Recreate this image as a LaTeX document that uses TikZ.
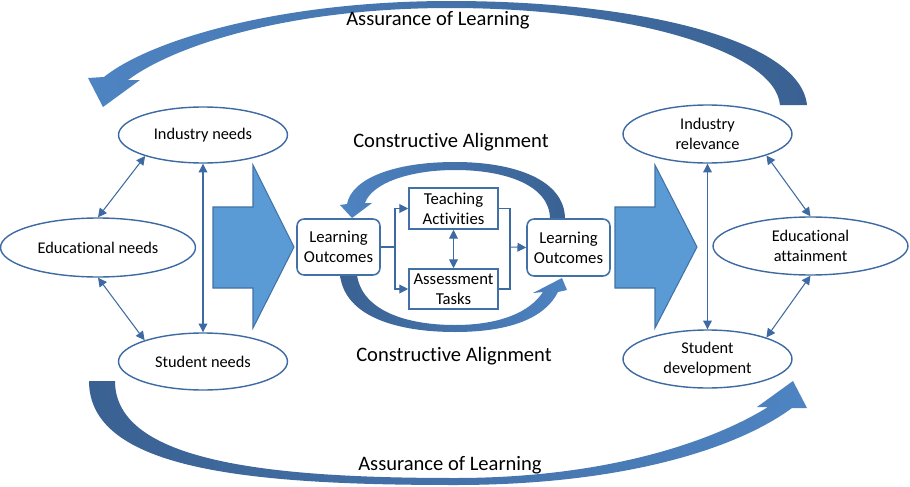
\documentclass[tikz,border=0pt]{standalone}
\usepackage{fontspec}
\setmainfont[Ligatures=NoCommon]{Carlito}
\usetikzlibrary{shapes.geometric,arrows.meta}
\definecolor{lineblue}{RGB}{62,106,163}
\definecolor{boxblue}{RGB}{65,113,166}
\definecolor{fillblue}{RGB}{91,155,213}
\definecolor{darkband}{RGB}{58,97,146}
\definecolor{lightband}{RGB}{78,132,194}
\begin{document}
\begin{tikzpicture}[x=0.02cm,y=-0.02cm,
	ell/.style={ellipse,draw=lineblue,fill=white,line width=0.8pt,inner sep=0pt,align=center,font=\fontsize{9.3}{11.3}\selectfont},
	box/.style={rectangle,draw=boxblue,fill=white,line width=0.9pt,inner sep=0pt,align=center,font=\fontsize{9.5}{11.3}\selectfont},
	link/.style={draw=lineblue,line width=0.6pt,>={Triangle[length=5pt,width=5pt]}},
	block/.style={fill=fillblue,draw=boxblue,line width=0.6pt},
	title/.style={font=\fontsize{11.7}{14}\selectfont}]
	\useasboundingbox (0,0) rectangle (910,487);
	\shade[left color=lightband,right color=darkband] (807,105) .. controls (800,40) and (640,1) .. (450,1) .. controls (280,1) and (150,40) .. (104,77) -- (88,78) -- (103,107) -- (140,80) -- (128,80) .. controls (175,45) and (290,8) .. (450,8) .. controls (625,8) and (775,50) .. (780,105) -- cycle;
	\shade[left color=darkband,right color=lightband] (89,381) .. controls (89,470) and (250,485) .. (455,485) .. controls (620,485) and (735,450) .. (792,408) -- (807,408) -- (793,381) -- (757,407) -- (768,407) .. controls (715,440) and (610,478) .. (455,478) .. controls (270,478) and (115,462) .. (115,381) -- cycle;
	\shade[left color=lightband,right color=darkband] (565,219) .. controls (565,180) and (515,162) .. (455,162) .. controls (395,162) and (352,178) .. (347,204) -- (340,205) -- (352,218) -- (372,203) -- (365,203) .. controls (372,183) and (410,170) .. (455,170) .. controls (505,170) and (550,185) .. (550,219) -- cycle;
	\shade[left color=darkband,right color=lightband] (340,275) .. controls (345,318) and (400,332) .. (455,332) .. controls (510,332) and (545,318) .. (558,292) -- (567,290) -- (562,278) -- (533,293) -- (543,292) .. controls (530,312) and (500,325) .. (455,325) .. controls (405,325) and (362,310) .. (357,275) -- cycle;
	\draw[block] (213,207) -- (253,207) -- (253,165) -- (294,247) -- (253,328) -- (253,288) -- (213,288) -- cycle;
	\draw[block] (615,207) -- (655,207) -- (655,165) -- (697,247) -- (655,328) -- (655,288) -- (615,288) -- cycle;
	\node[ell,minimum width=3.38cm,minimum height=1.12cm] at (203,135) (indneeds) {Industry needs};
	\node[ell,minimum width=3.9cm,minimum height=1.18cm] at (98,247.5) (eduneeds) {Educational needs};
	\node[ell,minimum width=3.38cm,minimum height=1.14cm] at (203,361.5) (studneeds) {Student needs};
	\node[ell,minimum width=3.38cm,minimum height=1.16cm] at (707.5,134) (indrel) {Industry\\relevance};
	\node[ell,minimum width=3.9cm,minimum height=1.16cm] at (810.5,246) (eduatt) {Educational\\attainment};
	\node[ell,minimum width=3.38cm,minimum height=1.16cm] at (707.5,359) (studdev) {Student\\development};
	\node[box,rounded corners=4pt,minimum width=1.66cm,minimum height=1.12cm] at (338.5,247) (loL) {Learning\\Outcomes};
	\node[box,rounded corners=4pt,minimum width=1.66cm,minimum height=1.14cm] at (568.5,247.5) (loR) {Learning\\Outcomes};
	\node[box,minimum width=1.78cm,minimum height=0.82cm] at (453.5,208.5) (teach) {Teaching\\Activities};
	\node[box,minimum width=1.78cm,minimum height=0.8cm] at (453.5,289) (assess) {Assessment\\Tasks};
	\node[title] at (438,20) (aoltop) {Assurance of Learning};
	\node[title] at (450,465) (aolbot) {Assurance of Learning};
	\node[title] at (451,142) (catop) {Constructive Alignment};
	\node[title] at (454,356) (cabot) {Constructive Alignment};
	\draw[link,<->] (indneeds.200) -- (eduneeds.north);
	\draw[link,<->] (eduneeds.south) -- (studneeds.160);
	\draw[link,<->] (indneeds.south) -- (studneeds.north);
	\draw[link,<->] (indrel.-20) -- (eduatt.north);
	\draw[link,<->] (eduatt.south) -- (studdev.20);
	\draw[link,<->] (indrel.south) -- (studdev.north);
	\coordinate (split) at (395,247);
	\coordinate (merge) at (510,247);
	\draw[link] (loL.east) -- (split);
	\draw[link,->] (split) |- (teach.west);
	\draw[link,->] (split) |- (assess.west);
	\draw[link] (teach.east) -| (merge) |- (assess.east);
	\draw[link,->] (merge) -- (loR.west);
	\draw[link,<->] (teach.south) -- (assess.north);
\end{tikzpicture}
\end{document}
